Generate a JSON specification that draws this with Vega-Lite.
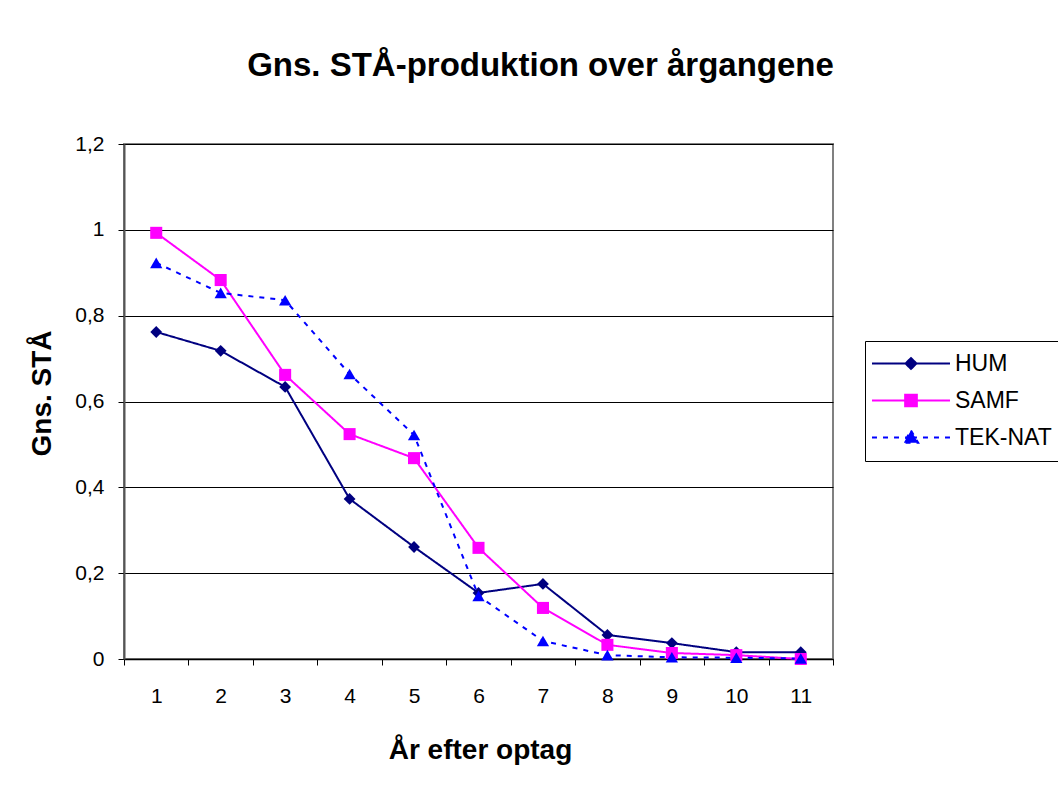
{
  "$schema": "https://vega.github.io/schema/vega-lite/v6.json",
  "width": 709,
  "height": 515,
  "autosize": {"type": "none"},
  "padding": {"left": 124, "top": 144, "right": 225, "bottom": 126},
  "background": "white",
  "config": {
    "font": "Liberation Sans",
    "view": {"stroke": "#808080", "strokeWidth": 2}
  },
  "title": {
    "text": "Gns. STÅ-produktion over årgangene",
    "fontSize": 33,
    "fontWeight": "bold",
    "color": "black",
    "anchor": "middle",
    "dx": 62,
    "baseline": "alphabetic",
    "offset": 24
  },
  "data": {
    "values": [
      {"aar": 1, "serie": "HUM", "sta": 0.762},
      {"aar": 2, "serie": "HUM", "sta": 0.718},
      {"aar": 3, "serie": "HUM", "sta": 0.634},
      {"aar": 4, "serie": "HUM", "sta": 0.373},
      {"aar": 5, "serie": "HUM", "sta": 0.261},
      {"aar": 6, "serie": "HUM", "sta": 0.154},
      {"aar": 7, "serie": "HUM", "sta": 0.175},
      {"aar": 8, "serie": "HUM", "sta": 0.056},
      {"aar": 9, "serie": "HUM", "sta": 0.037},
      {"aar": 10, "serie": "HUM", "sta": 0.016},
      {"aar": 11, "serie": "HUM", "sta": 0.016},
      {"aar": 1, "serie": "SAMF", "sta": 0.993},
      {"aar": 2, "serie": "SAMF", "sta": 0.883},
      {"aar": 3, "serie": "SAMF", "sta": 0.662},
      {"aar": 4, "serie": "SAMF", "sta": 0.524},
      {"aar": 5, "serie": "SAMF", "sta": 0.468},
      {"aar": 6, "serie": "SAMF", "sta": 0.259},
      {"aar": 7, "serie": "SAMF", "sta": 0.119},
      {"aar": 8, "serie": "SAMF", "sta": 0.033},
      {"aar": 9, "serie": "SAMF", "sta": 0.014},
      {"aar": 10, "serie": "SAMF", "sta": 0.009},
      {"aar": 11, "serie": "SAMF", "sta": 0.0},
      {"aar": 1, "serie": "TEK-NAT", "sta": 0.923},
      {"aar": 2, "serie": "TEK-NAT", "sta": 0.853},
      {"aar": 3, "serie": "TEK-NAT", "sta": 0.836},
      {"aar": 4, "serie": "TEK-NAT", "sta": 0.664},
      {"aar": 5, "serie": "TEK-NAT", "sta": 0.522},
      {"aar": 6, "serie": "TEK-NAT", "sta": 0.147},
      {"aar": 7, "serie": "TEK-NAT", "sta": 0.042},
      {"aar": 8, "serie": "TEK-NAT", "sta": 0.009},
      {"aar": 9, "serie": "TEK-NAT", "sta": 0.004},
      {"aar": 10, "serie": "TEK-NAT", "sta": 0.003},
      {"aar": 11, "serie": "TEK-NAT", "sta": 0.001}
    ]
  },
  "encoding": {
    "x": {
      "field": "aar",
      "type": "ordinal",
      "bandPosition": 0.5,
      "scale": {"type": "band", "paddingInner": 0, "paddingOuter": 0},
      "axis": {
        "title": "År efter optag",
        "titleFontSize": 28,
        "titleFontWeight": "bold",
        "titleColor": "black",
        "titleX": 356,
        "titleY": 91,
        "titleBaseline": "middle",
        "titleAlign": "center",
        "labelAngle": 0,
        "labelFontSize": 21,
        "labelColor": "black",
        "labelPadding": 20,
        "tickBand": "extent",
        "tickSize": 6,
        "tickColor": "black",
        "domainColor": "black",
        "domainWidth": 1.5,
        "grid": false
      }
    },
    "y": {
      "field": "sta",
      "type": "quantitative",
      "scale": {"domain": [0, 1.2], "nice": false},
      "axis": {
        "title": "Gns. STÅ",
        "titleFontSize": 28,
        "titleFontWeight": "bold",
        "titleColor": "black",
        "titleAngle": -90,
        "titleX": -82,
        "titleY": 249,
        "titleBaseline": "middle",
        "titleAlign": "center",
        "values": [0, 0.2, 0.4, 0.6, 0.8, 1, 1.2],
        "labelExpr": "replace(toString(datum.value), '.', ',')",
        "labelFontSize": 21,
        "labelColor": "black",
        "labelPadding": 14,
        "tickSize": 6,
        "tickColor": "black",
        "domainColor": "#555555",
        "domainWidth": 2,
        "grid": true,
        "gridColor": "black",
        "gridWidth": 1
      }
    }
  },
  "layer": [
    {
      "mark": {"type": "line", "strokeWidth": 2},
      "encoding": {
        "stroke": {
          "field": "serie",
          "type": "nominal",
          "scale": {"domain": ["HUM", "SAMF", "TEK-NAT"], "range": ["#000080", "#FF00FF", "#0000FF"]},
          "legend": {
            "title": null,
            "orient": "none",
            "legendX": 741,
            "legendY": 197,
            "strokeColor": "black",
            "padding": 11,
            "labelFontSize": 23,
            "labelColor": "black",
            "labelOffset": 32.5,
            "symbolOffset": 23.5,
            "rowPadding": 13,
            "symbolType": "M-4,0H4",
            "symbolSize": 380,
            "symbolStrokeWidth": 2,
            "encode": {
              "symbols": {
                "update": {
                  "shape": {"signal": "datum.value === 'HUM' ? 'M-4,0H4M0,-0.56L0.56,0L0,0.56L-0.56,0Z' : datum.value === 'SAMF' ? 'M-4,0H4M-0.6,-0.6H0.6V0.6H-0.6Z' : 'M-4,0H-3.49M-2.87,0H-2.36M-1.74,0H-1.23M-0.61,0H-0.1M0.1,0H0.61M1.23,0H1.74M2.36,0H2.87M3.49,0H4M0,-0.72L0.74,0.55H-0.74Z'"},
                  "fill": {"signal": "scale('stroke', datum.value)"},
                  "stroke": {"signal": "scale('stroke', datum.value)"},
                  "strokeDash": {"value": []},
                  "size": {"value": 380},
                  "strokeWidth": {"signal": "datum.value === 'TEK-NAT' ? 3 : 2"},
                  "opacity": {"value": 1}
                }
              }
            }
          }
        },
        "strokeDash": {
          "field": "serie",
          "type": "nominal",
          "scale": {"domain": ["HUM", "SAMF", "TEK-NAT"], "range": [[1, 0], [1, 0], [5, 6]]},
          "legend": null
        },
        "strokeWidth": {
          "field": "serie",
          "type": "nominal",
          "scale": {"domain": ["HUM", "SAMF", "TEK-NAT"], "range": [2, 2, 3]},
          "legend": null
        }
      }
    },
    {
      "mark": {"type": "point", "filled": true, "opacity": 1},
      "encoding": {
        "fill": {
          "field": "serie",
          "type": "nominal",
          "scale": {"range": ["#000080", "#FF00FF", "#0000FF"]},
          "legend": null
        },
        "shape": {
          "field": "serie",
          "type": "nominal",
          "scale": {"range": ["diamond", "square", "triangle-up"]},
          "legend": null
        },
        "size": {
          "field": "serie",
          "type": "nominal",
          "scale": {"range": [140, 150, 190]},
          "legend": null
        }
      }
    }
  ]
}
